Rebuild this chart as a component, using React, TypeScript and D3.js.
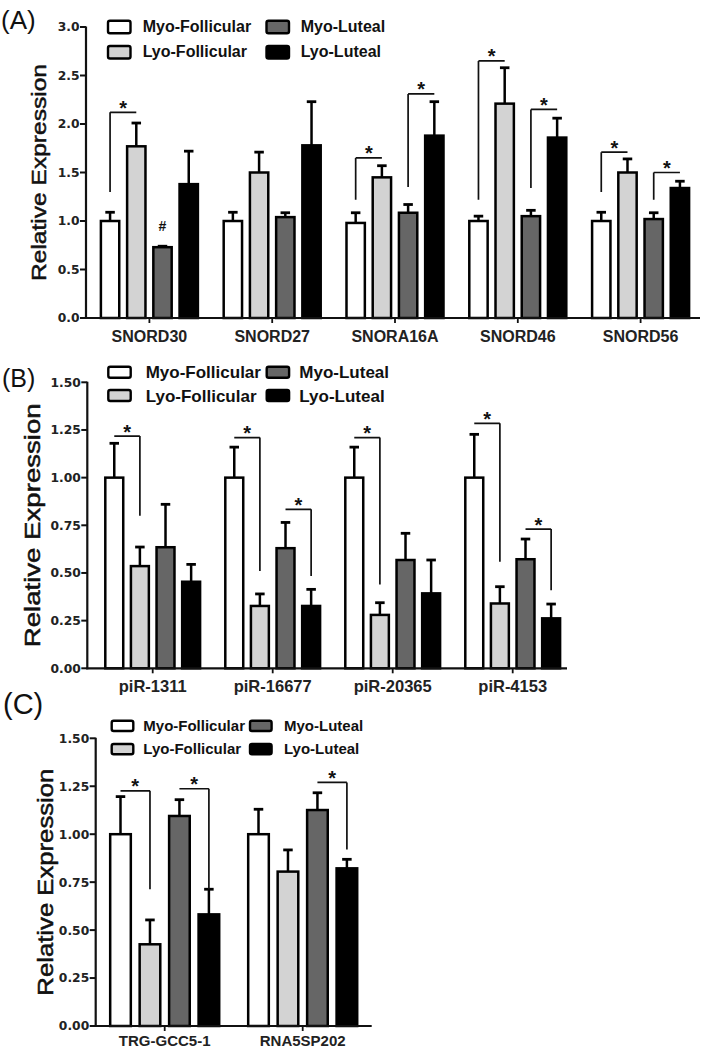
import React from "react";
import * as d3 from "d3";

// ---------- Data ----------
const seriesNames = ["Myo-Follicular", "Lyo-Follicular", "Myo-Luteal", "Lyo-Luteal"];

// Panel A
const catsA = ["SNORD30", "SNORD27", "SNORA16A", "SNORD46", "SNORD56"];
const myoFolA = [1.0, 1.0, 0.98, 1.0, 1.0];
const lyoFolA = [1.77, 1.5, 1.45, 2.21, 1.5];
const myoLutA = [0.73, 1.04, 1.085, 1.05, 1.02];
const lyoLutA = [1.38, 1.78, 1.88, 1.86, 1.34];
const myoFolErrA = [0.09, 0.09, 0.105, 0.05, 0.09];
const lyoFolErrA = [0.24, 0.21, 0.12, 0.37, 0.14];
const myoLutErrA = [0.01, 0.045, 0.085, 0.06, 0.065];
const lyoLutErrA = [0.34, 0.45, 0.35, 0.2, 0.07];
const ticksA = [0, 0.5, 1.0, 1.5, 2.0, 2.5, 3.0];
// [category, fromSeries, toSeries, bracketTop, legBottom]
const bracketsA: [string, number, number, number, number][] = [
  ["SNORD30", 0, 1, 2.12, 1.3],
  ["SNORA16A", 0, 1, 1.65, 1.22],
  ["SNORA16A", 2, 3, 2.31, 1.35],
  ["SNORD46", 0, 1, 2.65, 1.22],
  ["SNORD46", 2, 3, 2.15, 1.34],
  ["SNORD56", 0, 1, 1.71, 1.3],
  ["SNORD56", 2, 3, 1.5, 1.22],
];
const markersA: [string, number, string][] = [["SNORD30", 2, "#"]];

// Panel B
const catsB = ["piR-1311", "piR-16677", "piR-20365", "piR-4153"];
const myoFolB = [1.0, 1.0, 1.0, 1.0];
const lyoFolB = [0.536, 0.327, 0.28, 0.34];
const myoLutB = [0.635, 0.63, 0.568, 0.572];
const lyoLutB = [0.454, 0.327, 0.393, 0.262];
const myoFolErrB = [0.18, 0.16, 0.16, 0.227];
const lyoFolErrB = [0.1, 0.063, 0.064, 0.088];
const myoLutErrB = [0.225, 0.135, 0.14, 0.106];
const lyoLutErrB = [0.091, 0.087, 0.175, 0.075];
const ticksB = [0, 0.25, 0.5, 0.75, 1.0, 1.25, 1.5];
const bracketsB: [string, number, number, number, number][] = [
  ["piR-1311", 0, 1, 1.218, 0.8],
  ["piR-16677", 0, 1, 1.21, 0.51],
  ["piR-16677", 2, 3, 0.834, 0.484],
  ["piR-20365", 0, 1, 1.21, 0.44],
  ["piR-4153", 0, 1, 1.285, 0.559],
  ["piR-4153", 2, 3, 0.73, 0.41],
];

// Panel C
const catsC = ["TRG-GCC5-1", "RNA5SP202"];
const myoFolC = [1.0, 1.0];
const lyoFolC = [0.426, 0.805];
const myoLutC = [1.095, 1.126];
const lyoLutC = [0.582, 0.822];
const myoFolErrC = [0.196, 0.13];
const lyoFolErrC = [0.127, 0.113];
const myoLutErrC = [0.085, 0.09];
const lyoLutErrC = [0.131, 0.047];
const ticksC = [0, 0.25, 0.5, 0.75, 1.0, 1.25, 1.5];
const bracketsC: [string, number, number, number, number][] = [
  ["TRG-GCC5-1", 0, 1, 1.226, 0.713],
  ["TRG-GCC5-1", 2, 3, 1.237, 0.713],
  ["RNA5SP202", 2, 3, 1.27, 0.92],
];

// ---------- Styles ----------
const fills = ["#ffffff", "#d3d3d3", "#666666", "#000000"];
const SANS = "'Liberation Sans', Arial, Helvetica, sans-serif";
const TICKFONT = "'DejaVu Sans', 'Liberation Sans', sans-serif";

type PanelProps = {
  label: string;
  labelX: number;
  labelY: number;
  labelSize: number;
  cats: string[];
  values: number[][];
  errs: number[][];
  ticks: number[];
  tickFmt: string;
  yMax: number;
  yBottom: number;
  yTop: number;
  axisX0: number;
  axisX1: number;
  bandX0: number;
  bandX1: number;
  brackets: [string, number, number, number, number][];
  legSide: "left" | "right";
  markers?: [string, number, string][];
  catFont: number;
  catBaseline: number;
  yLabelX: number;
  yLabelLen: number;
  yLabelSize: number;
  legend: {
    x1: number; x2: number; w: number; h: number; tops: number[];
    tx1: number; tx2: number; baselines: number[]; font: number;
  };
};

function Panel(p: PanelProps) {
  const y = d3.scaleLinear().domain([0, p.yMax]).range([p.yBottom, p.yTop]);
  const x0 = d3.scaleBand<string>().domain(p.cats).range([p.bandX0, p.bandX1]);
  const span = x0.bandwidth() * 0.79;
  const x1 = d3.scaleBand<number>().domain([0, 1, 2, 3]).range([0, span]).paddingInner(0.3);
  const barX = (ci: string, s: number) => (x0(ci) as number) + (x0.bandwidth() - span) / 2 + (x1(s) as number);
  const bw = x1.bandwidth();
  const cx = (ci: string, s: number) => barX(ci, s) + bw / 2;
  const fmt = d3.format(p.tickFmt);
  const capW = 9.5;
  const yMid = (p.yBottom + p.yTop) / 2;

  return (
    <g>
      <text x={p.labelX} y={p.labelY} fontFamily={SANS} fontSize={p.labelSize} fill="#111">{p.label}</text>
      {/* y axis label */}
      <text
        transform={`translate(${p.yLabelX},${yMid}) rotate(-90)`}
        textAnchor="middle"
        fontFamily={SANS}
        fontSize={p.yLabelSize}
        textLength={p.yLabelLen}
        lengthAdjust="spacingAndGlyphs"
        fill="#111"
        stroke="#111"
        strokeWidth={0.5}
      >Relative Expression</text>

      {/* bars */}
      {p.cats.map((c, ci) =>
        p.values.map((vals, s) => {
          const v = vals[ci];
          const e = p.errs[s][ci];
          const xc = cx(c, s);
          return (
            <g key={c + s}>
              <line x1={xc} x2={xc} y1={y(v)} y2={y(v + e)} stroke="#000" strokeWidth={2.5} />
              <line x1={xc - capW / 2} x2={xc + capW / 2} y1={y(v + e)} y2={y(v + e)} stroke="#000" strokeWidth={2.8} />
              <rect x={barX(c, s)} y={y(v)} width={bw} height={y(0) - y(v)} fill={fills[s]} stroke="#000" strokeWidth={2.5} />
            </g>
          );
        })
      )}

      {/* brackets */}
      {p.brackets.map(([c, a, b, top, bot], i) => {
        const xa = cx(c, a);
        const xb = cx(c, b);
        const legX = p.legSide === "left" ? xa : xb;
        return (
          <g key={"br" + i}>
            <path d={`M${xa},${y(top)}H${xb}M${legX},${y(top)}V${y(bot)}`} fill="none" stroke="#111" strokeWidth={1.7} />
            <text x={(xa + xb) / 2} y={y(top) + 2.5} textAnchor="middle" fontFamily={SANS} fontWeight="bold" fontSize={20} fill="#111">*</text>
          </g>
        );
      })}

      {(p.markers || []).map(([c, s, m], i) => {
        const ci = p.cats.indexOf(c);
        const top = p.values[s][ci] + p.errs[s][ci];
        return (
          <text key={"mk" + i} x={cx(c, s)} y={y(top) - 15} textAnchor="middle" fontFamily={SANS} fontWeight="bold" fontSize={14} fill="#111">{m}</text>
        );
      })}

      {/* y axis */}
      <line x1={p.axisX0} x2={p.axisX0} y1={y(p.yMax) - 0.5} y2={y(0) + 1} stroke="#111" strokeWidth={2.2} />
      {p.ticks.map((t) => (
        <g key={"t" + t}>
          <line x1={p.axisX0 - 6} x2={p.axisX0} y1={y(t)} y2={y(t)} stroke="#111" strokeWidth={2} />
          <text x={p.axisX0 - 6.5} y={y(t)} dy="0.36em" textAnchor="end" fontFamily={TICKFONT} fontWeight="bold" fontSize={12.3} fill="#222">{fmt(t)}</text>
        </g>
      ))}

      {/* x axis */}
      <line x1={p.axisX0 - 1} x2={p.axisX1} y1={y(0)} y2={y(0)} stroke="#111" strokeWidth={2.2} />
      {p.cats.map((c) => {
        const xc = (x0(c) as number) + x0.bandwidth() / 2;
        return (
          <g key={"xc" + c}>
            <line x1={xc} x2={xc} y1={y(0)} y2={y(0) + 5} stroke="#111" strokeWidth={1.8} />
            <text x={xc} y={p.catBaseline} textAnchor="middle" fontFamily={SANS} fontWeight="bold" fontSize={p.catFont} fill="#222">{c}</text>
          </g>
        );
      })}

      {/* legend */}
      {seriesNames.map((n, s) => {
        const col = s < 2 ? 0 : 1;
        const row = s % 2;
        const lx = col === 0 ? p.legend.x1 : p.legend.x2;
        const tx = col === 0 ? p.legend.tx1 : p.legend.tx2;
        return (
          <g key={"lg" + n}>
            <rect x={lx} y={p.legend.tops[row]} width={p.legend.w} height={p.legend.h} rx={2} fill={fills[s]} stroke="#000" strokeWidth={2.4} />
            <text x={tx} y={p.legend.baselines[row]} fontFamily={SANS} fontWeight="bold" fontSize={p.legend.font} fill="#111">{n}</text>
          </g>
        );
      })}
    </g>
  );
}

export default function App() {
  return (
    <svg width={708} height={1050} style={{ position: "absolute", left: 0, top: 0, background: "#fff" }}>
      <rect x={0} y={0} width={708} height={1050} fill="#fff" />
      <Panel
        label="(A)" labelX={1} labelY={29} labelSize={26}
        cats={catsA}
        values={[myoFolA, lyoFolA, myoLutA, lyoLutA]}
        errs={[myoFolErrA, lyoFolErrA, myoLutErrA, lyoLutErrA]}
        ticks={ticksA} tickFmt=".1f" yMax={3} yBottom={318} yTop={27}
        axisX0={86} axisX1={700} bandX0={88} bandX1={702}
        brackets={bracketsA} legSide="left" markers={markersA}
        catFont={16} catBaseline={342}
        yLabelX={46} yLabelLen={217} yLabelSize={21}
        legend={{ x1: 108, x2: 266.5, w: 22.5, h: 12.5, tops: [20.7, 46], tx1: 142.7, tx2: 300.7, baselines: [32, 57], font: 16 }}
      />
      <Panel
        label="(B)" labelX={2} labelY={387} labelSize={25}
        cats={catsB}
        values={[myoFolB, lyoFolB, myoLutB, lyoLutB]}
        errs={[myoFolErrB, lyoFolErrB, myoLutErrB, lyoLutErrB]}
        ticks={ticksB} tickFmt=".2f" yMax={1.5} yBottom={668.3} yTop={382.3}
        axisX0={87.3} axisX1={567} bandX0={92.7} bandX1={572.7}
        brackets={bracketsB} legSide="right"
        catFont={16.5} catBaseline={692}
        yLabelX={40} yLabelLen={244} yLabelSize={22}
        legend={{ x1: 108.3, x2: 266.7, w: 22.4, h: 11, tops: [366.7, 390], tx1: 145.7, tx2: 299.3, baselines: [378, 401.5], font: 17 }}
      />
      <Panel
        label="(C)" labelX={3} labelY={714} labelSize={29}
        cats={catsC}
        values={[myoFolC, lyoFolC, myoLutC, lyoLutC]}
        errs={[myoFolErrC, lyoFolErrC, myoLutErrC, lyoLutErrC]}
        ticks={ticksC} tickFmt=".2f" yMax={1.5} yBottom={1026} yTop={738.3}
        axisX0={95.7} axisX1={371.7} bandX0={95.7} bandX1={371.7}
        brackets={bracketsC} legSide="right"
        catFont={15} catBaseline={1046}
        yLabelX={53} yLabelLen={227} yLabelSize={22}
        legend={{ x1: 111.7, x2: 250, w: 21.6, h: 10.3, tops: [720.7, 744], tx1: 143.3, tx2: 284, baselines: [731, 754.3], font: 15 }}
      />
    </svg>
  );
}
